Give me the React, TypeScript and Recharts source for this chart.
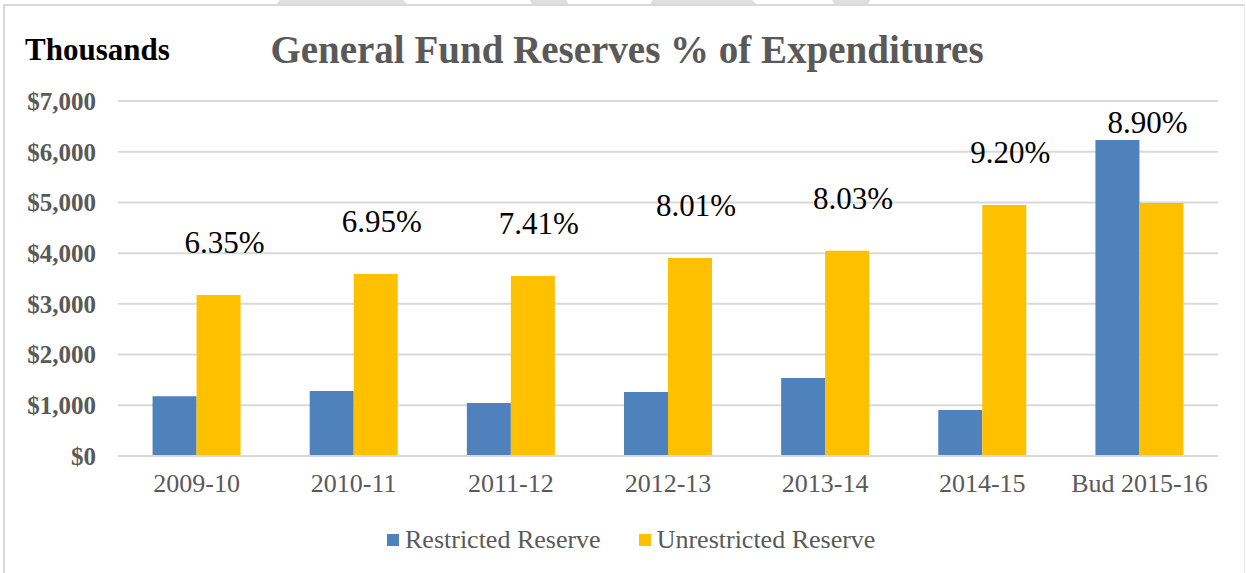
import React from "react";
import { BarChart, Bar, XAxis, YAxis, CartesianGrid, LabelList } from "recharts";

// values in thousands of dollars
const years = ["2009-10", "2010-11", "2011-12", "2012-13", "2013-14", "2014-15", "Bud 2015-16"];
const restricted = [1180, 1280, 1045, 1260, 1540, 905, 6230];
const unrestricted = [3175, 3590, 3550, 3905, 4045, 4950, 4990];
const pctOfExpenditures = ["6.35%", "6.95%", "7.41%", "8.01%", "8.03%", "9.20%", "8.90%"];
const yTicks = [0, 1000, 2000, 3000, 4000, 5000, 6000, 7000];

const data = years.map((year, i) => ({
  year,
  restricted: restricted[i],
  unrestricted: unrestricted[i],
  pct: pctOfExpenditures[i],
}));

const SERIF = "'Liberation Serif', 'DejaVu Serif', serif";
const BLUE = "#4f81bd";
const GOLD = "#ffc000";
const GRAY_TEXT = "#595959";

// percent label sits above the unrestricted bar, or above the restricted one when that is taller
const PctLabel = (props: any) => {
  const { x, y, width, height, index } = props;
  const row = data[index];
  const perUnit = height / row.unrestricted;
  const base = y + height;
  const rTop = base - row.restricted * perUnit;
  let cx = x + width / 2 + 6;
  let ty = y - 42;
  if (rTop - 8 < ty) {
    ty = rTop - 7;
    cx = x + 8;
  }
  return (
    <text x={cx} y={ty} textAnchor="middle" fontFamily={SERIF} fontSize={31} fill="#000">
      {row.pct}
    </text>
  );
};

const LegendItem = ({ color, label }: { color: string; label: string }) => (
  <span style={{ display: "inline-flex", alignItems: "center", marginRight: 38 }}>
    <span style={{ width: 12, height: 12, background: color, marginRight: 6, display: "inline-block" }} />
    <span>{label}</span>
  </span>
);

export default function App() {
  return (
    <div
      style={{
        position: "fixed",
        left: 0,
        top: 0,
        width: 1246,
        height: 573,
        background: "#fff",
        fontFamily: SERIF,
        overflow: "hidden",
      }}
    >
      {/* page artifacts at the very top */}
      <svg width={1246} height={8} style={{ position: "absolute", left: 0, top: 0 }}>
        <polygon points="280,0 403,0 408,5 276,5" fill="#dedede" />
        <polygon points="530,0 566,0 569,5 532,5" fill="#dedede" />
        <polygon points="653,0 752,0 757,5 649,5" fill="#dedede" />
        <polygon points="832,0 870,0 868,5 835,5" fill="#dedede" />
      </svg>
      {/* chart frame */}
      <div
        style={{
          position: "absolute",
          left: 3,
          top: 4,
          width: 1242,
          height: 600,
          borderLeft: "2px solid #d9d9d9",
          borderTop: "2px solid #d9d9d9",
          borderRight: "1px solid #e8e8e8",
          boxSizing: "border-box",
        }}
      />
      <div
        style={{
          position: "absolute",
          left: 25,
          top: 32,
          fontSize: 31,
          fontWeight: 700,
          color: "#000",
          lineHeight: "36px",
        }}
      >
        Thousands
      </div>
      <div
        style={{
          position: "absolute",
          left: 0,
          width: 1254,
          top: 27,
          textAlign: "center",
          fontSize: 39,
          fontWeight: 700,
          color: GRAY_TEXT,
          lineHeight: "46px",
        }}
      >
        General Fund Reserves % of Expenditures
      </div>
      <div style={{ position: "absolute", left: 0, top: 0 }}>
        <BarChart
          width={1246}
          height={573}
          data={data}
          margin={{ top: 101, right: 28, left: 0, bottom: 87 }}
          barCategoryGap="22%"
          barGap={0}
        >
          <CartesianGrid vertical={false} stroke="#d9d9d9" strokeWidth={2} />
          <XAxis
            dataKey="year"
            height={30}
            axisLine={{ stroke: "#d9d9d9", strokeWidth: 2 }}
            tickLine={false}
            tickMargin={12}
            tick={{ fill: GRAY_TEXT, fontSize: 26, fontFamily: SERIF }}
          />
          <YAxis
            width={118}
            domain={[0, 7000]}
            ticks={yTicks}
            axisLine={false}
            tickLine={false}
            tickMargin={16}
            tickFormatter={(v: number) => `$${v.toLocaleString("en-US")}`}
            tick={{ fill: GRAY_TEXT, fontSize: 25, fontWeight: 700, fontFamily: SERIF }}
          />
          <Bar dataKey="restricted" name="Restricted Reserve" fill={BLUE} isAnimationActive={false} />
          <Bar dataKey="unrestricted" name="Unrestricted Reserve" fill={GOLD} isAnimationActive={false}>
            <LabelList dataKey="pct" content={PctLabel} />
          </Bar>
        </BarChart>
      </div>
      <div
        style={{
          position: "absolute",
          left: 387,
          top: 522,
          fontSize: 26,
          color: GRAY_TEXT,
          lineHeight: "32px",
          whiteSpace: "nowrap",
        }}
      >
        <LegendItem color={BLUE} label="Restricted Reserve" />
        <LegendItem color={GOLD} label="Unrestricted Reserve" />
      </div>
    </div>
  );
}
